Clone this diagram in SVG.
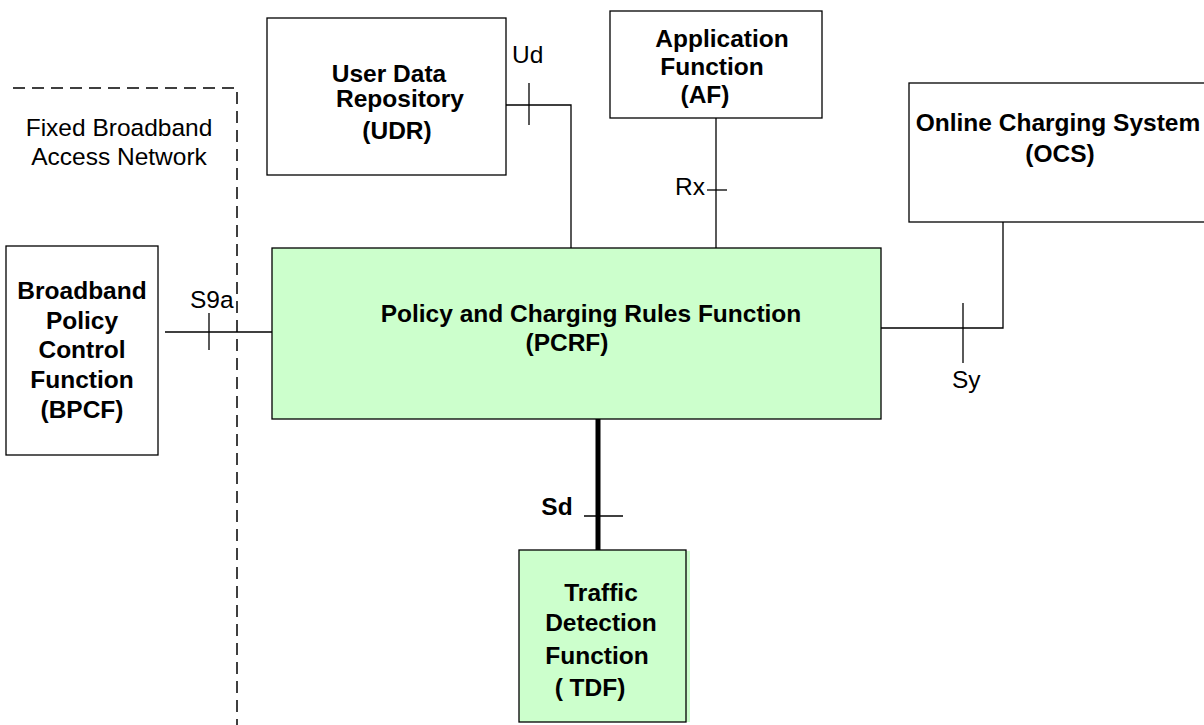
<svg xmlns="http://www.w3.org/2000/svg" width="1204" height="725" viewBox="0 0 1204 725">
<style>
.box{fill:#fff;stroke:#000;stroke-width:1.3}
.green{fill:#ccffcc;stroke:#000;stroke-width:1.3}
.b{font-family:"Liberation Sans",Arial,sans-serif;font-weight:bold;font-size:24.5px;text-anchor:middle;fill:#000}
.r{font-family:"Liberation Sans",Arial,sans-serif;font-size:24.5px;fill:#000}
.ln{stroke:#000;stroke-width:1.3;fill:none}
</style>
<rect width="1204" height="725" fill="#fff"/>
<g id="boundary">
<path d="M13,88 H237 V725" fill="none" stroke="#000" stroke-width="1.5" stroke-dasharray="12,7"/>
<text class="r" x="119" y="136" text-anchor="middle">Fixed Broadband</text>
<text class="r" x="119" y="165" text-anchor="middle">Access Network</text>
</g>
<g id="connectors">
<path class="ln" d="M506,105 H571 V248"/>
<path class="ln" d="M529,83 V125"/>
<text class="r" x="512" y="63">Ud</text>
<path class="ln" d="M716,118 V248"/>
<path class="ln" d="M707,190 H727"/>
<text class="r" x="675" y="195">Rx</text>
<path class="ln" d="M881,328 H1003 V222"/>
<path class="ln" d="M963,303 V363"/>
<text class="r" x="952" y="388">Sy</text>
<path class="ln" d="M165,332 H272"/>
<path class="ln" d="M209,313 V350"/>
<text class="r" x="190" y="308">S9a</text>
<path d="M598,419 V550" stroke="#000" stroke-width="5" fill="none"/>
<path class="ln" d="M584,516 H623"/>
<text class="b" x="557" y="515">Sd</text>
</g>
<g id="udr">
<rect class="box" x="267" y="18" width="239" height="157"/>
<text class="b" x="389" y="82">User Data</text>
<text class="b" x="400" y="107">Repository</text>
<text class="b" x="397" y="139">(UDR)</text>
</g>
<g id="af">
<rect class="box" x="610" y="11" width="212" height="107"/>
<text class="b" x="722" y="47">Application</text>
<text class="b" x="712" y="75">Function</text>
<text class="b" x="705" y="103">(AF)</text>
</g>
<g id="ocs">
<rect class="box" x="909" y="83" width="300" height="139"/>
<text class="b" x="1058" y="131">Online Charging System</text>
<text class="b" x="1060" y="162">(OCS)</text>
</g>
<g id="pcrf">
<rect class="green" x="272" y="248" width="609" height="171"/>
<text class="b" x="591" y="322">Policy and Charging Rules Function</text>
<text class="b" x="567" y="351">(PCRF)</text>
</g>
<g id="bpcf">
<rect class="box" x="6" y="246" width="152" height="209"/>
<text class="b" x="82" y="299">Broadband</text>
<text class="b" x="82" y="329">Policy</text>
<text class="b" x="82" y="358">Control</text>
<text class="b" x="82" y="388">Function</text>
<text class="b" x="82" y="418">(BPCF)</text>
</g>
<g id="tdf">
<rect x="686" y="551" width="4" height="171" fill="#ccffcc"/>
<rect class="green" x="519" y="550" width="167" height="172"/>
<text class="b" x="601" y="601">Traffic</text>
<text class="b" x="601" y="631">Detection</text>
<text class="b" x="597" y="664">Function</text>
<text class="b" x="590" y="696">( TDF)</text>
</g>
</svg>
